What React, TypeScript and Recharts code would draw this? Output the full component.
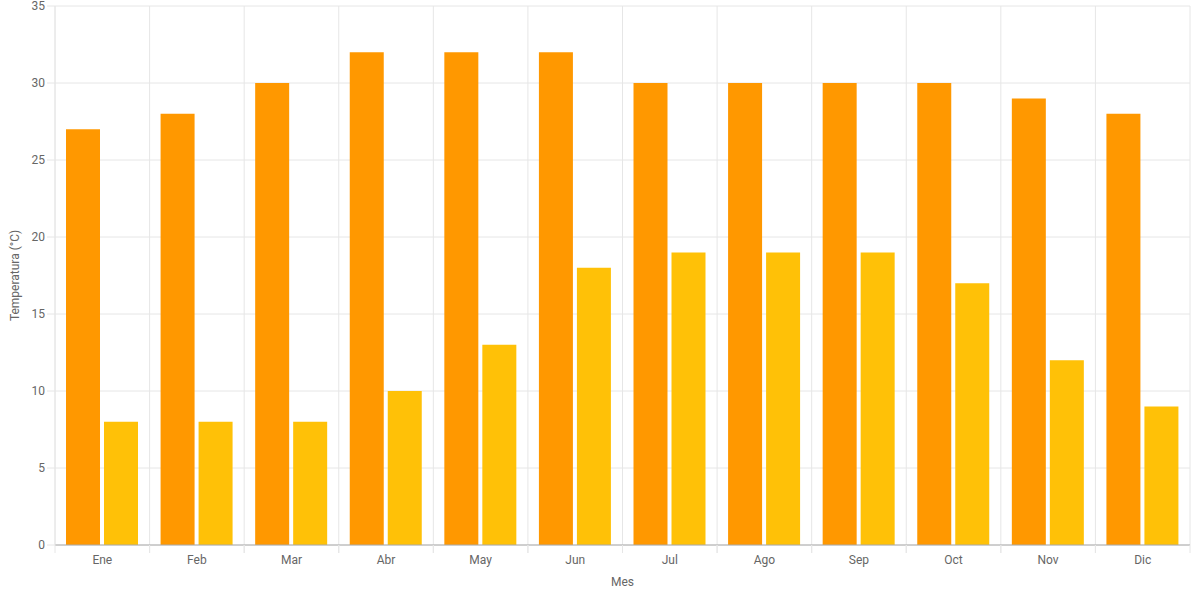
import { BarChart, Bar, XAxis, YAxis, CartesianGrid } from "recharts";

const months = ["Ene", "Feb", "Mar", "Abr", "May", "Jun", "Jul", "Ago", "Sep", "Oct", "Nov", "Dic"];
const maxTemps = [27, 28, 30, 32, 32, 32, 30, 30, 30, 30, 29, 28];
const minTemps = [8, 8, 8, 10, 13, 18, 19, 19, 19, 17, 12, 9];
const yTicks = [0, 5, 10, 15, 20, 25, 30, 35];

const data = months.map((mes, i) => ({ mes, max: maxTemps[i], min: minTemps[i] }));

const W = 1200;
const H = 600;
const M = { top: 6, right: 10, left: 0, bottom: 0 };
const Y_W = 55;
const BAND = (W - M.left - M.right - Y_W) / months.length;
const FONT = "'Liberation Sans Narrow', Roboto, sans-serif";
const GRID = "#e6e6e6";

function MonthTick(props: any) {
  const { x, y, payload } = props;
  return (
    <g>
      <line x1={x - BAND / 2} x2={x - BAND / 2} y1={y - 10} y2={y - 2} stroke={GRID} />
      <line x1={x + BAND / 2} x2={x + BAND / 2} y1={y - 10} y2={y - 2} stroke={GRID} />
      <text x={x} y={y} dy="0.71em" textAnchor="middle" fill="#666" fontSize={12} fontFamily={FONT}>
        {payload.value}
      </text>
    </g>
  );
}

export default function App() {
  return (
    <div style={{ position: "absolute", left: 0, top: 0, width: W, height: H, background: "#fff" }}>
      <BarChart width={W} height={H} data={data} margin={M} barSize={34} barGap={4}>
        <CartesianGrid
          stroke={GRID}
          verticalCoordinatesGenerator={({ offset }: any) =>
            Array.from({ length: months.length + 1 }, (_, i) => offset.left + (i * offset.width) / months.length)
          }
        />
        <XAxis
          dataKey="mes"
          height={55}
          tickSize={8}
          tickMargin={2}
          tickLine={false}
          axisLine={{ stroke: "#aaa" }}
          tick={<MonthTick />}
          interval={0}
          label={{
            content: ({ viewBox }: any) => (
              <text
                x={viewBox.x + viewBox.width / 2}
                y={582}
                dy="0.35em"
                textAnchor="middle"
                fill="#666"
                fontSize={12}
                fontFamily={FONT}
              >
                Mes
              </text>
            ),
          }}
        />
        <YAxis
          width={Y_W}
          domain={[0, 35]}
          ticks={yTicks}
          interval={0}
          tickSize={8}
          tickMargin={2}
          axisLine={{ stroke: GRID }}
          tickLine={{ stroke: GRID }}
          tick={{ fill: "#666", fontSize: 12, fontFamily: FONT }}
          label={{
            content: ({ viewBox }: any) => {
              const cy = viewBox.y + viewBox.height / 2;
              return (
                <text
                  x={15}
                  y={cy}
                  transform={`rotate(-90, 15, ${cy})`}
                  dy="0.35em"
                  textAnchor="middle"
                  fill="#666"
                  fontSize={12}
                  fontFamily={FONT}
                >
                  Temperatura (°C)
                </text>
              );
            },
          }}
        />
        <Bar dataKey="max" name="Máxima" fill="#FF9800" isAnimationActive={false} />
        <Bar dataKey="min" name="Mínima" fill="#FFC107" isAnimationActive={false} />
      </BarChart>
    </div>
  );
}
